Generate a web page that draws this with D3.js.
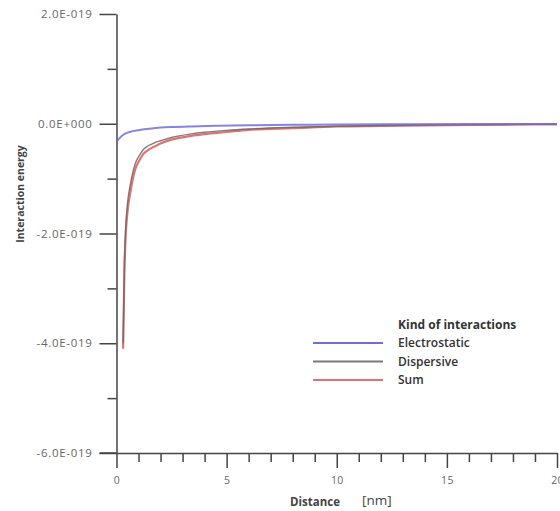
<!DOCTYPE html>
<html><head><meta charset="utf-8">
<script src="https://cdn.jsdelivr.net/npm/d3@7"></script>
<style>body{margin:0;background:#fff}svg{display:block}</style>
</head><body><svg id="c" width="560" height="511"></svg>
<script>
const elecDistance = [0.03, 0.1, 0.2, 0.3, 0.4, 0.6, 0.8, 1.1, 1.5, 2.0, 2.6, 3.4, 4.5, 6, 8, 10, 13, 16, 20];
const elecEnergy = [-0.32e-19, -0.28e-19, -0.235e-19, -0.205e-19, -0.18e-19, -0.15e-19, -0.13e-19, -0.11e-19, -0.09e-19, -0.07e-19, -0.058e-19, -0.048e-19, -0.038e-19, -0.028e-19, -0.02e-19, -0.015e-19, -0.01e-19, -0.006e-19, -0.004e-19];

const distance = [0.3, 0.33, 0.36, 0.41, 0.5, 0.63, 0.86, 1.05, 1.22, 1.4, 1.6, 1.8, 2.0, 2.5, 3.4, 4, 5, 6, 8, 10, 12, 15, 18, 20];
const dispersiveEnergy = [-4.0e-19, -3.25e-19, -2.55e-19, -1.95e-19, -1.45e-19, -1.1e-19, -0.72e-19, -0.57e-19, -0.47e-19, -0.41e-19, -0.37e-19, -0.335e-19, -0.31e-19, -0.25e-19, -0.185e-19, -0.155e-19, -0.12e-19, -0.095e-19, -0.065e-19, -0.045e-19, -0.032e-19, -0.02e-19, -0.012e-19, -0.008e-19];
const sumEnergy = [-4.1e-19, -3.4e-19, -2.7e-19, -2.1e-19, -1.6e-19, -1.25e-19, -0.82e-19, -0.66e-19, -0.55e-19, -0.49e-19, -0.44e-19, -0.40e-19, -0.36e-19, -0.29e-19, -0.22e-19, -0.19e-19, -0.15e-19, -0.11e-19, -0.08e-19, -0.05e-19, -0.04e-19, -0.025e-19, -0.015e-19, -0.01e-19];

const yMajorTicks = [-6e-19, -4e-19, -2e-19, 0, 2e-19];
const yMinorTicks = [-5e-19, -3e-19, -1e-19, 1e-19];
const xMajorTicks = [0, 5, 10, 15, 20];
const xMinorTicks = [1,2,3,4,6,7,8,9,11,12,13,14,16,17,18,19];
const seriesNames = ["Electrostatic", "Dispersive", "Sum"];
const seriesColors = ["#6f6fdc", "#7a7a7a", "#e27272"];

const svg = d3.select("#c");
const x = d3.scaleLinear().domain([0, 20]).range([116.5, 557]);
const y = d3.scaleLinear().domain([-6e-19, 2e-19]).range([453, 14]);

function fmt(v) {
  if (v === 0) return "0.0E+000";
  const e = Math.floor(Math.log10(Math.abs(v)) + 1e-9);
  const m = v / Math.pow(10, e);
  return m.toFixed(1) + "E" + (e < 0 ? "-" : "+") + String(Math.abs(e)).padStart(3, "0");
}

const axisColor = "#444";
function styleAxis(g, size, spacing) {
  g.select(".domain").attr("stroke", axisColor).attr("stroke-width", 1.5);
  g.selectAll(".tick line").attr("stroke", axisColor).attr("stroke-width", 1.5);
  g.selectAll(".tick text").attr("fill", "#666").style("font-family", "Open Sans, sans-serif").style("font-size", size || "10px").style("letter-spacing", spacing || "0px");
}

// Y axis
const yg = svg.append("g").attr("transform", "translate(116.5,0)")
  .call(d3.axisLeft(y).tickValues(yMajorTicks).tickSize(17).tickPadding(7).tickFormat(fmt).tickSizeOuter(0));
styleAxis(yg, "11.5px", "0.7px");
const ygm = svg.append("g").attr("transform", "translate(116.5,0)")
  .call(d3.axisLeft(y).tickValues(yMinorTicks).tickSize(9).tickFormat(() => "").tickSizeOuter(0));
styleAxis(ygm); ygm.select(".domain").remove();

// X axis
const xg = svg.append("g").attr("transform", "translate(0,453)")
  .call(d3.axisBottom(x).tickValues(xMajorTicks).tickSize(15).tickPadding(9).tickFormat(d3.format("d")).tickSizeOuter(0));
styleAxis(xg, "10.5px", "0.3px");
const xgm = svg.append("g").attr("transform", "translate(0,453)")
  .call(d3.axisBottom(x).tickValues(xMinorTicks).tickSize(9).tickFormat(() => "").tickSizeOuter(0));
styleAxis(xgm); xgm.select(".domain").remove();
svg.append("line").attr("x1", 99.5).attr("x2", 116.5).attr("y1", 453).attr("y2", 453).attr("stroke", axisColor).attr("stroke-width", 1.5);

// Lines
const line = d3.line().curve(d3.curveMonotoneX).x(d => x(d[0])).y(d => y(d[1]));
const sumData = distance.map((d, i) => [d, sumEnergy[i]]);
const dispData = distance.map((d, i) => [d, dispersiveEnergy[i]]);
const elecData = elecDistance.map((d, i) => [d, elecEnergy[i]]);

svg.append("path").datum(sumData).attr("d", line).attr("fill", "none").attr("stroke", seriesColors[2]).attr("stroke-width", 2.2);
svg.append("path").datum(dispData).attr("d", line).attr("fill", "none").attr("stroke", "#666").attr("stroke-width", 1.4).attr("opacity", 0.85);
svg.append("path").datum(elecData).attr("d", line).attr("fill", "none").attr("stroke", seriesColors[0]).attr("stroke-width", 2).attr("opacity", 0.85);

// Axis titles
svg.append("text").attr("x", 290).attr("y", 506).style("font-family", "Open Sans, sans-serif").style("font-size", "11.5px").style("font-weight", "700").attr("fill", "#444").text("Distance");
svg.append("text").attr("x", 362).attr("y", 505).style("font-family", "Open Sans, sans-serif").style("font-size", "13.5px").attr("fill", "#444").text("[nm]");
svg.append("text").attr("transform", "translate(24,194) rotate(-90)").attr("text-anchor", "middle").style("font-family", "Open Sans, sans-serif").style("font-size", "10.5px").style("font-weight", "700").attr("fill", "#444").text("Interaction energy");

// Legend
const lg = svg.append("g");
lg.append("text").attr("x", 398).attr("y", 329).style("font-family", "Open Sans, sans-serif").style("font-size", "12px").style("font-weight", "700").attr("fill", "#333").text("Kind of interactions");
seriesNames.forEach((n, i) => {
  const yy = 343 + i * 18.5;
  lg.append("line").attr("x1", 313).attr("x2", 383).attr("y1", yy).attr("y2", yy).attr("stroke", seriesColors[i]).attr("stroke-width", 2.2);
  lg.append("text").attr("x", 398).attr("y", yy + 4).style("font-family", "Open Sans, sans-serif").style("font-size", "12px").style("font-weight", "600").attr("fill", "#333").text(n);
});
</script></body></html>
